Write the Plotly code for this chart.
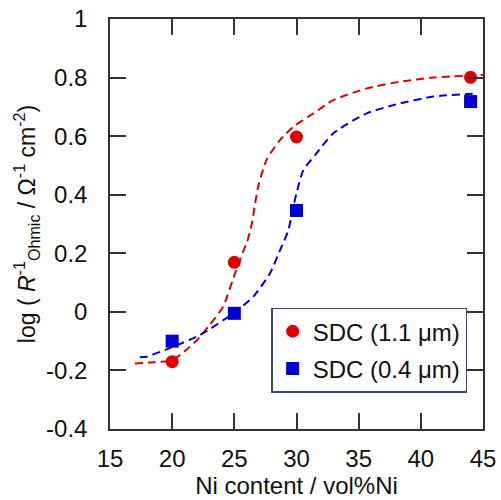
import plotly.graph_objects as go

# Measured points
ni_content = [20, 25, 30, 44]
sdc_11_vals = [-0.170, 0.169, 0.597, 0.801]
sdc_04_vals = [-0.100, -0.005, 0.346, 0.718]

# Guide curves (dashed)
fit_11_x = [17.0, 18.5, 20.0, 21.0, 22.0, 23.0, 24.1, 25.06, 25.7, 26.0, 26.4, 26.67, 26.93,
            27.6, 28.68, 29.75, 31.36, 32.96, 35.65, 38.33, 41.0, 45.0]
fit_11_y = [-0.176, -0.172, -0.165, -0.135, -0.096, -0.045, 0.018, 0.132, 0.205, 0.235, 0.30,
            0.37, 0.43, 0.52, 0.587, 0.632, 0.678, 0.723, 0.763, 0.786, 0.800, 0.809]
fit_04_x = [17.4, 17.95, 20.09, 22.24, 24.92, 26.53, 27.87, 28.68, 29.35, 29.6, 30.0, 30.55,
            31.6, 32.96, 35.65, 38.33, 41.0, 44.6]
fit_04_y = [-0.155, -0.153, -0.119, -0.079, -0.005, 0.052, 0.132, 0.211, 0.279, 0.33, 0.405,
            0.484, 0.541, 0.61, 0.678, 0.712, 0.735, 0.746]

x_ticks = [15, 20, 25, 30, 35, 40, 45]
y_ticks = [-0.4, -0.2, 0, 0.2, 0.4, 0.6, 0.8, 1]
y_tick_text = ["-0.4", "-0.2", "0", "0.2", "0.4", "0.6", "0.8", "1"]

RED = "rgb(222,0,0)"
BLUE = "rgb(0,0,210)"
FONT = "Arial, Liberation Sans, sans-serif"
AXIS_COLOR = "#333333"
FS = 24

fig = go.Figure()

fig.add_trace(go.Scatter(x=fit_11_x, y=fit_11_y, mode="lines", showlegend=False,
                         line=dict(color=RED, width=2, dash="8px,5px", shape="spline",
                                   smoothing=0.6), hoverinfo="skip"))
fig.add_trace(go.Scatter(x=fit_04_x, y=fit_04_y, mode="lines", showlegend=False,
                         line=dict(color=BLUE, width=2, dash="8px,5px", shape="spline",
                                   smoothing=0.6), hoverinfo="skip"))

fig.add_trace(go.Scatter(x=ni_content, y=sdc_11_vals, mode="markers", name="SDC (1.1 μm)",
                         legendgroup="a",
                         marker=dict(symbol="circle", size=13, color=RED)))
fig.add_trace(go.Scatter(x=ni_content, y=sdc_04_vals, mode="markers", name="SDC (0.4 μm)",
                         legendgroup="b",
                         marker=dict(symbol="square", size=13, color=BLUE)))

axis_common = dict(
    showgrid=False, zeroline=False, showline=True, linecolor=AXIS_COLOR, linewidth=1.5,
    mirror="ticks", ticks="inside", ticklen=16, tickwidth=1.5, tickcolor=AXIS_COLOR,
    tickfont=dict(family=FONT, size=FS, color="#111111"), automargin=False,
)

fig.update_layout(
    width=501, height=500,
    margin=dict(l=110, r=18, t=19, b=71),
    paper_bgcolor="white", plot_bgcolor="white",
    font=dict(family=FONT, size=FS, color="#111111"),
    xaxis=dict(range=[15, 45], tickvals=x_ticks, ticklabelstandoff=7,
               title=dict(text="Ni content / vol%Ni", font=dict(size=FS), standoff=6),
               **axis_common),
    yaxis=dict(range=[-0.4, 1], tickvals=y_ticks, ticktext=y_tick_text, ticklabelstandoff=16,
               title=dict(text="log ( <i>R</i><sup>-1</sup><sub>Ohmic</sub> / Ω<sup>-1</sup> cm<sup>-2</sup>)",
                          font=dict(size=23), standoff=4),
               **axis_common),
    legend=dict(x=0.432, y=0.296, xanchor="left", yanchor="top",
                bgcolor="white", bordercolor="#3b4a6b", borderwidth=1.5,
                font=dict(family=FONT, size=FS, color="#111111"),
                itemwidth=30, traceorder="grouped", tracegroupgap=3),
    showlegend=True,
)

fig.write_html("out.html")
